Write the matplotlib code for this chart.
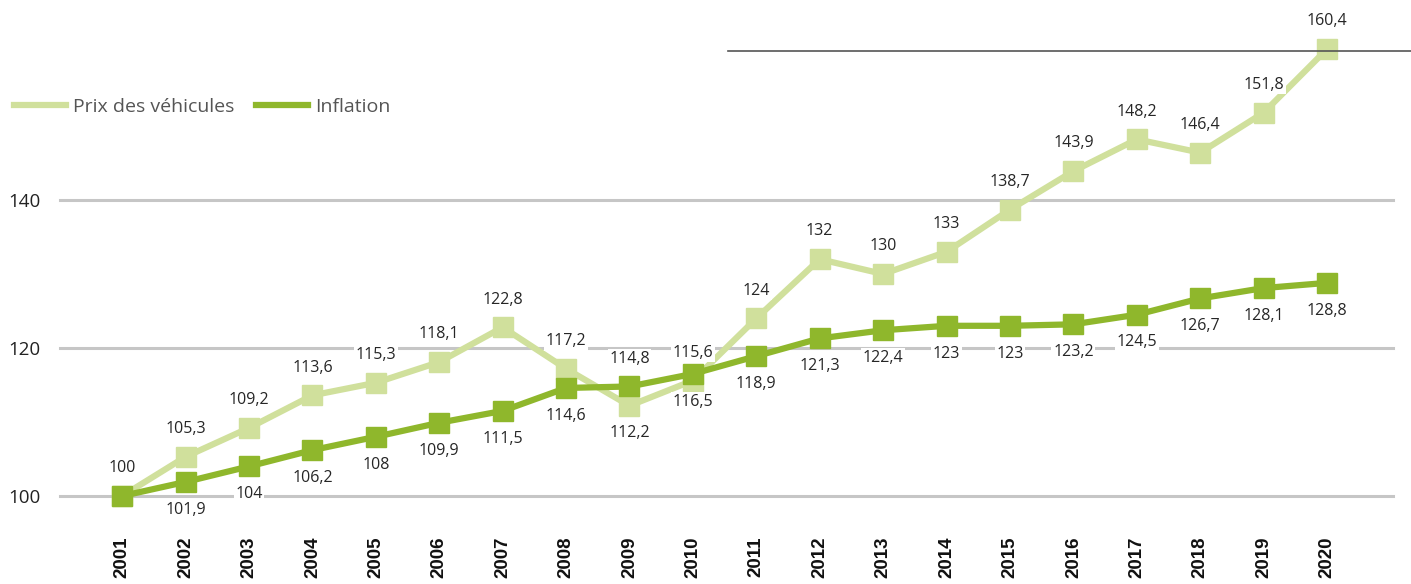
import matplotlib
matplotlib.use("Agg")
import matplotlib.pyplot as plt
from matplotlib.lines import Line2D

years = [str(y) for y in range(2001, 2021)]
prix = [100, 105.3, 109.2, 113.6, 115.3, 118.1, 122.8, 117.2, 112.2, 115.6,
        124, 132, 130, 133, 138.7, 143.9, 148.2, 146.4, 151.8, 160.4]
inflation = [100, 101.9, 104, 106.2, 108, 109.9, 111.5, 114.6, 114.8, 116.5,
             118.9, 121.3, 122.4, 123, 123, 123.2, 124.5, 126.7, 128.1, 128.8]
# label placement: +1 above, -1 below, 0 none
prix_pos = [1, 1, 1, 1, 1, 1, 1, 1, -1, 1, 1, 1, 1, 1, 1, 1, 1, 1, 1, 1]
infl_pos = [0, -1, -1, -1, -1, -1, -1, -1, 1, -1, -1, -1, -1, -1, -1, -1, -1, -1, -1, -1]
yticks = [100, 120, 140]

c_light = "#d0e09c"
c_dark = "#8fb72c"
grid_c = "#c6c6c6"

def fmt(v):
    s = ("%g" % v)
    return s.replace(".", ",")

fig = plt.figure(figsize=(14.11, 5.84), dpi=100)
ax = fig.add_axes([60 / 1411, 88 / 584, (1393 - 60) / 1411, 444 / 584])

x = list(range(len(years)))
for yt in yticks:
    ax.axhline(yt, color=grid_c, lw=2.2, zorder=1, clip_on=False)

ax.plot(x, prix, color=c_light, lw=4.5, marker="s", ms=14, clip_on=False, zorder=3,
        label="Prix des véhicules")
ax.plot(x, inflation, color=c_dark, lw=4.5, marker="s", ms=14, clip_on=False, zorder=4,
        label="Inflation")

lab_font = dict(family=["Open Sans", "DejaVu Sans"], fontsize=11.5, color="#262626")
for xi, v, p in zip(x, prix, prix_pos):
    if p:
        ax.annotate(fmt(v), (xi, v), xytext=(0, 20 * p), textcoords="offset points",
                    ha="center", va="center", zorder=6, annotation_clip=False,
                    bbox=dict(boxstyle="square,pad=0.1", fc="white", ec="none"), **lab_font)
for xi, v, p in zip(x, inflation, infl_pos):
    if p:
        ax.annotate(fmt(v), (xi, v), xytext=(0, 20 * p), textcoords="offset points",
                    ha="center", va="center", zorder=6, annotation_clip=False,
                    bbox=dict(boxstyle="square,pad=0.1", fc="white", ec="none"), **lab_font)

ax.set_xlim(-0.98, 20.04)
ax.set_ylim(100, 160)
ax.set_xticks(x)
ax.set_xticklabels(years, rotation=90, family="Liberation Sans", fontsize=13.5,
                   fontweight="bold", color="#111111")
ax.set_yticks(yticks)
ax.set_yticklabels([str(t) for t in yticks], family=["Open Sans", "DejaVu Sans"],
                   fontsize=13.5, color="#222222")
ax.tick_params(axis="x", length=0, pad=29)
ax.tick_params(axis="y", length=0, pad=14)
for s in ax.spines.values():
    s.set_visible(False)

# top reference line
fig.add_artist(Line2D([728 / 1411, 1.0], [(584 - 51) / 584] * 2, color="#555555", lw=1.2))

leg = fig.legend(handles=[Line2D([], [], color=c_light, lw=4.5),
                          Line2D([], [], color=c_dark, lw=4.5)],
                 labels=["Prix des véhicules", "Inflation"], loc="center left",
                 bbox_to_anchor=(0.0, (584 - 107) / 584), ncol=2, frameon=False,
                 handlelength=2.7, columnspacing=1.1, handletextpad=0.35,
                 borderaxespad=0.3, prop=dict(family=["Open Sans", "DejaVu Sans"], size=14))
for t in leg.get_texts():
    t.set_color("#555555")

fig.savefig("out.png", dpi=100)
